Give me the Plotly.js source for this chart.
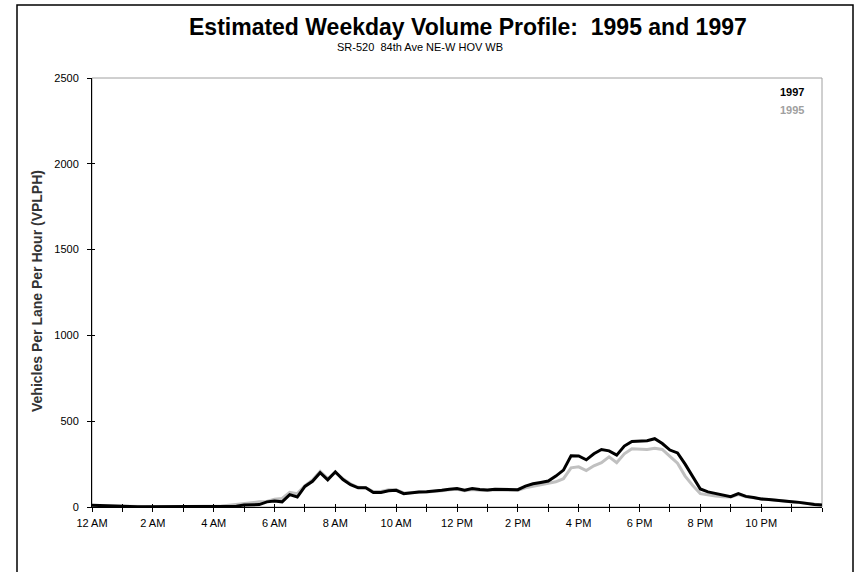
<!DOCTYPE html>
<html>
<head>
<meta charset="utf-8">
<script src="https://cdn.plot.ly/plotly-3.0.1.min.js"></script>
<style>
  html, body { margin: 0; padding: 0; background: #ffffff; }
  #chart { width: 857px; height: 572px; }
</style>
</head>
<body>
<div id="chart"></div>
<script>
// Time of day in hours (15-minute steps, 0 = 12 AM, 24 = next 12 AM)
const hours = [];
for (let i = 0; i <= 96; i++) hours.push(i / 4);

// Estimated weekday volume (vehicles per lane per hour), 1997
const vol1997 = [
  10, 8, 7, 5,
  3, 3, 2, 2,
  2, 2, 2, 2,
  2, 2, 2, 3,
  3, 3, 4, 5,
  12, 15, 14, 30,
  35, 30, 72, 58,
  120, 150, 200, 158,
  205, 160, 130, 112,
  112, 85, 85, 95,
  97, 78, 84, 88,
  89, 92, 98, 104,
  108, 98, 108, 102,
  99, 104, 104, 102,
  101, 122, 135, 143,
  151, 180, 215, 298,
  297, 275, 310, 335,
  327, 302, 355, 382,
  385, 386, 398, 370,
  332, 315, 250, 178,
  105, 88, 78, 70,
  60, 78, 62, 55,
  47, 44, 41, 36,
  31, 27, 20, 15,
  12
];

// Estimated weekday volume (vehicles per lane per hour), 1995
const vol1995 = [
  8, 7, 6, 5,
  3, 3, 2, 2,
  2, 2, 2, 2,
  2, 2, 3, 3,
  4, 6, 10, 15,
  22, 28, 30, 32,
  45, 50, 85, 78,
  125, 158, 208, 165,
  200, 165, 135, 115,
  112, 90, 90, 100,
  100, 82, 86, 88,
  88, 90, 95, 100,
  103, 95, 102, 98,
  96, 100, 100, 98,
  97, 112, 122, 128,
  138, 147, 165, 228,
  234, 212, 240, 258,
  292, 258, 310, 340,
  338, 335, 342, 335,
  295, 255, 180, 125,
  78, 70, 64, 60,
  58, 72, 60, 54,
  46, 43, 40, 35,
  30, 26, 20, 15,
  12
];

// Tick positions (every hour) and labels (every two hours)
const tickHours = [];
for (let h = 0; h <= 24; h++) tickHours.push(h);
const tickLabels = ['12 AM','','2 AM','','4 AM','','6 AM','','8 AM','','10 AM','',
                    '12 PM','','2 PM','','4 PM','','6 PM','','8 PM','','10 PM','',''];
const yTicks = [0, 500, 1000, 1500, 2000, 2500];

const W = 857, H = 572;
const L = 92, R = 35, T = 78, B = 65;
const px = (x) => (x - L) / (W - L - R);
const py = (y) => (H - B - y) / (H - T - B);

const fontFam = '"Liberation Sans", Arial, sans-serif';

const traces = [
  {
    x: hours, y: vol1995, type: 'scatter', mode: 'lines', name: '1995',
    line: { color: '#c0c0c0', width: 3 }, xaxis: 'x', yaxis: 'y',
    hoverinfo: 'skip'
  },
  {
    x: hours, y: vol1997, type: 'scatter', mode: 'lines', name: '1997',
    line: { color: '#000000', width: 3 }, xaxis: 'x2', yaxis: 'y2',
    hoverinfo: 'skip'
  }
];

const baseX = {
  range: [0, 24], tickmode: 'array', tickvals: tickHours, ticktext: tickLabels,
  showgrid: false, zeroline: false, showline: true, linecolor: '#000', linewidth: 1,
  tickcolor: '#000', tickwidth: 1,
  tickfont: { family: fontFam, size: 11, color: '#000' }
};
const baseY = {
  range: [0, 2500], tickmode: 'array', tickvals: yTicks,
  showgrid: false, zeroline: false, showline: true, linecolor: '#000', linewidth: 1,
  tickcolor: '#000', tickwidth: 1,
  tickfont: { family: fontFam, size: 11, color: '#000' }
};

const layout = {
  width: W, height: H, autosize: false,
  margin: { l: L, r: R, t: T, b: B, pad: 0 },
  paper_bgcolor: '#ffffff', plot_bgcolor: '#ffffff',
  showlegend: false,
  xaxis: Object.assign({}, baseX, { ticks: 'outside', ticklen: 4, showticklabels: true, ticklabelstandoff: 2 }),
  yaxis: Object.assign({}, baseY, { ticks: 'outside', ticklen: 4, showticklabels: true, ticklabelstandoff: 6 }),
  xaxis2: Object.assign({}, baseX, { overlaying: 'x', anchor: 'y2', ticks: 'inside', ticklen: 3, showticklabels: false }),
  yaxis2: Object.assign({}, baseY, { overlaying: 'y', anchor: 'x2', ticks: 'inside', ticklen: 3, showticklabels: false }),
  shapes: [
    { type: 'rect', xref: 'paper', yref: 'paper', x0: 0, x1: 1, y0: 0, y1: 1,
      line: { color: '#a0a0a0', width: 1 }, layer: 'below' },
    { type: 'rect', xref: 'paper', yref: 'paper', x0: px(17), x1: px(853), y0: py(585), y1: py(5),
      line: { color: '#000', width: 1.5 }, layer: 'below' }
  ],
  annotations: [
    { text: '<b>Estimated Weekday Volume Profile:  1995 and 1997</b>', xref: 'paper', yref: 'paper',
      x: px(468), y: py(27), xanchor: 'center', yanchor: 'middle', showarrow: false,
      font: { family: fontFam, size: 23, color: '#000' } },
    { text: 'SR-520  84th Ave NE-W HOV WB', xref: 'paper', yref: 'paper',
      x: px(420), y: py(47), xanchor: 'center', yanchor: 'middle', showarrow: false,
      font: { family: fontFam, size: 11, color: '#000' } },
    { text: '<b>Vehicles Per Lane Per Hour (VPLPH)</b>', xref: 'paper', yref: 'paper',
      x: px(37), y: py(291), xanchor: 'center', yanchor: 'middle', textangle: -90, showarrow: false,
      font: { family: fontFam, size: 14, color: '#333' } },
    { text: '<b>1997</b>', xref: 'paper', yref: 'paper',
      x: px(806), y: py(92), xanchor: 'right', yanchor: 'middle', showarrow: false,
      font: { family: fontFam, size: 11, color: '#000' } },
    { text: '<b>1995</b>', xref: 'paper', yref: 'paper',
      x: px(806), y: py(110), xanchor: 'right', yanchor: 'middle', showarrow: false,
      font: { family: fontFam, size: 11, color: '#a0a0a0' } }
  ]
};

Plotly.newPlot('chart', traces, layout, { staticPlot: true, displayModeBar: false });
</script>
</body>
</html>
